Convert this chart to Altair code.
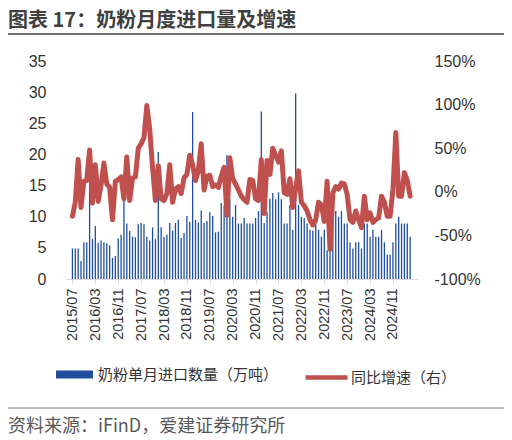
import json
import altair as alt
import pandas as pd

# ---------------- data ----------------
tick_labels = ["2015/07", "2016/03", "2016/11", "2017/07", "2018/03", "2018/11",
               "2019/07", "2020/03", "2020/11", "2021/07", "2022/03", "2022/11",
               "2023/07", "2024/03", "2024/11"]

# 奶粉单月进口数量（万吨）, 2015/07 - 2025/05
volume = [4.9, 4.9, 4.9, 2.9, 5.9, 5.9, 15.8, 6.4, 8.5, 5.8, 6.2, 5.9, 5.7, 5.4, 3.4, 3.7, 6.5, 7.1, 12.6, 8.9, 7.7, 6.8, 6.7,
          8.8, 9.0, 8.8, 6.8, 6.2, 8.3, 6.4, 20.4, 8.3, 6.8, 7.1, 9.0, 7.8, 9.0, 9.5, 6.6, 7.4, 10.1, 9.2, 26.8, 9.5, 9.1, 11.0,
          9.0, 9.3, 10.7, 10.1, 7.5, 7.6, 12.2, 11.8, 19.9, 12.8, 10.0, 11.9, 8.9, 8.9, 9.8, 8.9, 8.9, 8.9, 9.8, 10.9, 26.9, 9.0, 10.8, 12.9,
          13.8, 12.8, 13.9, 12.8, 8.9, 8.9, 11.9, 7.9, 29.8, 11.9, 10.0, 9.8, 8.9, 7.9, 7.8, 8.9, 7.9, 6.8, 7.9, 4.6, 4.5, 9.2, 10.9,
          10.0, 10.9, 8.9, 8.9, 5.9, 4.9, 5.9, 5.9, 4.9, 8.9, 8.9, 6.8, 7.9, 6.8, 6.8, 7.9, 5.9, 3.9, 3.9, 5.9, 8.9, 10.0, 8.9, 8.9, 8.9, 6.8]

# 同比增速（%）
yoy = [-28, -12, 37, -18, 12, 13, 48, -13, 31, -11, 8, 33, 9, 5, -32, 12, 14, 17, -8, 40, -10, 16, 17,
       50, 55, 62, 99, 72, 28, -10, 30, -8, -10, -2, 31, -12, 3, 6, -2, 16, 20, 42, 31, 13, 24, 55,
       2, 18, 19, 6, 8, 5, 18, 28, -27, 39, 15, 9, 2, -5, -9, -12, 14, 13, -8, -10, 37, -25, 36, 20,
       50, 42, 34, 47, -1, -3, 15, -18, 5, 24, -12, -16, -22, -32, -38, -32, -12, -15, -34, 12, -66, -1, 6,
       3, 10, 9, -3, -32, -35, -22, -32, -41, -5, -32, -24, -35, -32, -30, -5, -12, -28, -28, 3, 68, -5, -5, 22, 13, -5]

series_names = ["奶粉单月进口数量（万吨）", "同比增速（右）"]
title_text = "图表 17：奶粉月度进口量及增速"
source_text = "资料来源：iFinD，爱建证券研究所"

months = []
yy, mm = 2015, 7
for _ in range(len(volume)):
    months.append(f"{yy}/{mm:02d}")
    mm += 1
    if mm > 12:
        mm = 1
        yy += 1

df = pd.DataFrame({"idx": list(range(len(volume))), "month": months,
                   "volume": volume, "yoy": yoy,
                   "s_bar": series_names[0], "s_line": series_names[1]})

# ---------------- styling ----------------
NUM_FONT = "Liberation Sans, Arial, Noto Sans CJK SC, sans-serif"
CJK_FONT = "Noto Sans CJK SC, sans-serif"
TXT = "#333333"
BAR_COLOR = "#1F4E9F"
LINE_COLOR = "#C0504D"
W, H = 352, 218

label_expr = json.dumps(tick_labels) + "[round(datum.value / 8)]"

x_enc = alt.X(
    "idx:Q",
    scale=alt.Scale(domain=[-0.5, 119], nice=False, zero=False),
    axis=alt.Axis(values=list(range(0, 113, 8)), labelExpr=label_expr,
                  labelAngle=270, labelFontSize=14.5, labelFont=NUM_FONT,
                  labelColor=TXT, labelPadding=5, tickSize=4,
                  tickColor="#D9D9D9", domainColor="#D9D9D9", grid=False,
                  title=None, labelOverlap=False, labelFlush=False),
)

bars = alt.Chart(df).mark_bar(size=1.3).encode(
    x=x_enc,
    y=alt.Y("volume:Q",
            scale=alt.Scale(domain=[0, 35], nice=False),
            axis=alt.Axis(values=list(range(0, 36, 5)), orient="left",
                          domain=False, ticks=False, grid=False,
                          labelPadding=20, labelFontSize=16, labelFont=NUM_FONT,
                          labelColor=TXT, title=None)),
    fill=alt.Fill("s_bar:N",
                  scale=alt.Scale(range=[BAR_COLOR]),
                  legend=alt.Legend(orient="none", legendX=-10, legendY=295,
                                    title=None, padding=0,
                                    symbolType="M-1,-0.22H1V0.22H-1Z",
                                    symbolSize=1369, symbolStrokeWidth=0,
                                    labelFont=CJK_FONT, labelFontSize=15,
                                    labelColor=TXT, labelOffset=5,
                                    labelLimit=400)),
)

line = alt.Chart(df).mark_line(strokeWidth=5, strokeJoin="round",
                               strokeCap="round").encode(
    x=x_enc,
    y=alt.Y("yoy:Q",
            scale=alt.Scale(domain=[-100, 150], nice=False),
            axis=alt.Axis(values=list(range(-100, 151, 50)), orient="right",
                          labelExpr="datum.value + '%'",
                          domain=False, ticks=False, grid=False,
                          labelPadding=16, labelFontSize=16, labelFont=NUM_FONT,
                          labelColor=TXT, title=None)),
    stroke=alt.Stroke("s_line:N",
                      scale=alt.Scale(range=[LINE_COLOR]),
                      legend=alt.Legend(orient="none", legendX=237, legendY=293,
                                        title=None, padding=0,
                                        symbolType="stroke", symbolSize=1764,
                                        symbolStrokeWidth=4.5,
                                        labelFont=CJK_FONT, labelFontSize=15,
                                        labelColor=TXT, labelOffset=1,
                                        labelLimit=400)),
)

title = alt.Chart(pd.DataFrame({"t": [title_text]})).mark_text(
    align="left", baseline="alphabetic", fontSize=20, fontWeight="bold",
    font=CJK_FONT, color="#404040").encode(
    x=alt.value(-58), y=alt.value(-34), text="t:N")

title_rule = alt.Chart(pd.DataFrame({"a": [0]})).mark_rule(
    color="#404040", strokeWidth=1.5).encode(
    x=alt.value(-58), x2=alt.value(438), y=alt.value(-27))

source_rule = alt.Chart(pd.DataFrame({"a": [0]})).mark_rule(
    color="#808080", strokeWidth=1).encode(
    x=alt.value(-58), x2=alt.value(438), y=alt.value(347))

source = alt.Chart(pd.DataFrame({"t": [source_text]})).mark_text(
    align="left", baseline="alphabetic", fontSize=18,
    font=CJK_FONT, color="#595959").encode(
    x=alt.value(-58), y=alt.value(371), text="t:N")

chart = alt.layer(bars, line, title, title_rule, source_rule, source).resolve_scale(
    y="independent"
).properties(
    width=W, height=H,
    autosize=alt.AutoSizeParams(type="none"),
    padding={"left": 58, "top": 53, "right": 86, "bottom": 161},
).configure_view(strokeWidth=0)

chart.save("out.html", embed_options={"renderer": "svg", "actions": False})
